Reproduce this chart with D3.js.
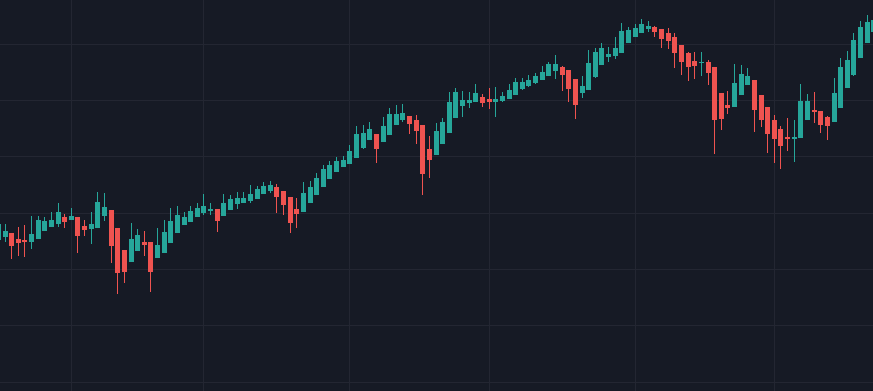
<!DOCTYPE html>
<html>
<head>
<meta charset="utf-8">
<script src="https://cdn.jsdelivr.net/npm/d3@7"></script>
<style>
  html, body { margin: 0; padding: 0; background: #161a25; overflow: hidden; }
  svg { display: block; }
</style>
</head>
<body>
<svg id="chart" width="873" height="391"></svg>
<script>
// Bar index of each session (index -1 is the partly hidden bar at the left edge)
const barIndex = d3.range(-1, 132);
// OHLC series (price units)
const opens = [160,163.5,167,160.8,159.7,158.3,161.5,169.3,173.3,176.3,183,180.3,183,173.7,171.3,172.3,184.3,190,171.7,150,138.3,149.3,158,158,142.3,147.3,157.3,167.3,175.3,178.3,183.3,186.7,189.5,190.7,184.5,190.3,195.7,197.5,199.5,201.3,205.7,209.3,213,208.7,202.7,190.7,187.7,196.7,204.7,212.7,220.7,227.7,232.7,235.7,241.7,252.3,259.7,265.7,257.7,264.7,274.7,279.7,283.7,279.7,274.8,250.7,244.7,255.7,266.7,281.7,293.7,296.7,297.7,302.7,300.7,298.3,299.3,300.7,304.7,310.7,313.7,316.7,319.7,323.7,328.7,332.7,329.7,320.7,306.7,309.8,322.7,334.7,343.3,344,347.3,357,363.3,366.7,371.3,372.7,370.7,366.7,362.7,354.7,346.7,339.3,337.3,337.7,332.7,306.7,294.7,292.7,304.7,314.7,319.7,304.7,292.7,279.7,270.7,262.7,261.3,261.7,279.7,289.7,288.7,282.7,277.7,291.7,311.7,325,342.3,357.3,367.7];
const highs = [178,175.8,167,172.7,174.8,183.8,183.6,182.7,187.7,197,185.7,191.7,183,179.7,188,207.7,207,190,171.7,150,177,170.7,169,158,171.7,180,191.7,194,188,194,196.7,205.7,197,190.7,205.8,205,207.8,207.8,215,213.7,218,219,216,208.7,202.7,201.7,218,219,227,235,239,242.8,244,254.7,274,275,278,265.7,283,292,295,296,284,285,274.8,263.8,277,282,307.8,312,308.8,307.8,315.7,305.7,311.7,312.7,307.7,315.7,321.7,321.7,324.7,326.7,333.7,337.7,344.7,333.7,329.7,320.7,323.7,349.7,351.7,356.7,352.7,362.7,376.7,372.7,375.7,380.7,378.7,373.7,370.7,371.7,366.7,354.7,347.7,347.7,347.7,339.7,332.7,306.7,308.7,335.7,334.7,331.7,319.7,304.7,292.7,284.7,273.7,281.7,279.7,315.7,305.7,307.7,288.7,283.7,321.7,341.7,348.7,366.7,378.7,384.7,386];
const lows = [158,158.3,140.7,144.3,143.5,151.5,161.3,169.3,173.3,173.3,172.3,179.7,146.7,164.3,156.3,172.3,179.3,136.7,105.7,116.7,138.3,149.3,144.3,108.3,142.3,147.3,157.3,167.3,175.3,178.3,183.3,184.7,185.2,168.3,184.5,190.3,191.5,196.7,197.3,201.3,205.7,207.3,187.3,184.7,166.7,171.7,187.7,196.7,204.7,212.7,220.7,227.7,232.7,235.7,241.7,250.7,259.7,236.7,257.7,264.7,274.7,277.7,265.7,255.7,204.7,221.7,244.7,255.7,266.7,281.7,283.5,291.7,297.7,293.3,290.7,283.3,298.3,300.7,304.7,309.7,313.3,315.7,319.7,323.7,320.7,308.7,297.7,280.7,302.5,309.8,321.7,334.7,337.7,340.7,347.3,357,363.3,366.7,368.3,363.3,352.3,351.3,332.3,325,318.7,320.7,324.3,314.7,246,269.7,285.7,292.7,304.7,314.7,268.3,273.3,246.7,236.7,230.7,248.7,237.7,261.7,279.7,276.7,266.7,259.7,277.7,291.7,311.7,324,342.3,357.3,367.7];
const closes = [175.7,169,153.7,157.5,158.2,165.8,179.7,178.7,179.7,188.3,178.3,183.7,164.3,170.3,176,198,192.7,153.7,127.3,128.3,161,165,155.5,128.3,154.7,167.7,179,185,182.7,188.7,191.7,193.7,190.7,179.3,196.7,200.7,201.7,201.7,205.7,210.7,214,215,203.3,195.3,176.7,185.7,206.7,212.7,221.7,230.7,234.7,238.7,239.7,248.7,265.7,266.7,270.7,250.7,273.7,286,286,287,275.7,268.7,225.7,239.7,268.7,277.7,297.7,307.7,299.7,299.7,306.7,296.7,297.7,300.7,303.7,309.7,317.7,317.7,319.7,323.7,327.7,335.7,335.7,324.7,310.7,294.7,313.7,336.7,347.7,351.7,345.7,351.7,368.7,369.7,371.7,375.7,373.7,368.3,361.3,359.3,347.3,338.3,333.3,334.3,338.5,326.7,279.7,280.7,292.3,316.7,325.7,323.7,289.7,279.7,265.7,260.7,253.7,260.7,262.7,298.7,298.7,287.7,274.7,273.7,306.7,332.7,339.7,359.7,372.7,377.7,379.7];
// Bars where a new month starts (vertical grid)
const monthStartIdx = [10, 30, 52, 73, 95, 116];
// Horizontal grid price levels
const gridStart = 17.7, gridStep = 56.33;
const gridLevels = d3.range(gridStart, 400, gridStep);

const W = 873, H = 391;
const upColor = "#26a69a", downColor = "#ef5350";
const bg = "#161a25", gridColor = "#232632";

const data = barIndex.map((idx, k) => ({ idx, o: opens[k], h: highs[k], l: lows[k], c: closes[k] }));

const x = d3.scaleLinear().domain([0, 130]).range([5.0, 867.2]);
const y = d3.scaleLinear().domain([0, 400]).range([400, 0]);

const svg = d3.select("#chart");
svg.append("rect").attr("width", W).attr("height", H).attr("fill", bg);

const grid = svg.append("g").attr("shape-rendering", "crispEdges");
grid.selectAll("line.h").data(gridLevels).join("line")
  .attr("class", "h")
  .attr("x1", 0).attr("x2", W)
  .attr("y1", d => Math.floor(y(d)) + 0.5).attr("y2", d => Math.floor(y(d)) + 0.5)
  .attr("stroke", gridColor).attr("stroke-width", 1);
grid.selectAll("line.v").data(monthStartIdx).join("line")
  .attr("class", "v")
  .attr("y1", 0).attr("y2", H)
  .attr("x1", d => Math.floor(x(d)) + 0.5).attr("x2", d => Math.floor(x(d)) + 0.5)
  .attr("stroke", gridColor).attr("stroke-width", 1);

const bodyW = 5;
const candles = svg.append("g").attr("shape-rendering", "crispEdges");
const g = candles.selectAll("g.c").data(data).join("g").attr("class", "c");
g.append("line")
  .attr("x1", d => Math.floor(x(d.idx)) + 0.5)
  .attr("x2", d => Math.floor(x(d.idx)) + 0.5)
  .attr("y1", d => y(d.h))
  .attr("y2", d => y(d.l))
  .attr("stroke", d => d.c >= d.o ? upColor : downColor)
  .attr("stroke-width", 1);
g.append("rect")
  .attr("x", d => Math.floor(x(d.idx)) - 2)
  .attr("width", bodyW)
  .attr("y", d => y(Math.max(d.o, d.c)))
  .attr("height", d => Math.max(1, Math.abs(y(d.o) - y(d.c))))
  .attr("fill", d => d.c >= d.o ? upColor : downColor);
</script>
</body>
</html>
